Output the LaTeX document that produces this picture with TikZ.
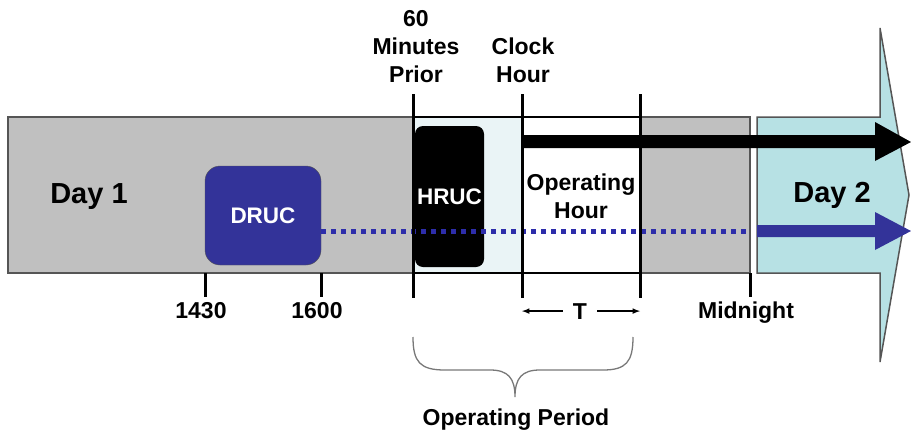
\documentclass[tikz,border=0pt]{standalone}
\usepackage{fontspec}
\setmainfont{Liberation Sans}
\usetikzlibrary{arrows}

\definecolor{dayGray}{RGB}{192,192,192}
\definecolor{edgeGray}{RGB}{85,85,85}
\definecolor{drucBlue}{RGB}{51,51,153}
\definecolor{dotBlue}{RGB}{45,45,170}
\definecolor{dayTwo}{RGB}{183,225,228}
\definecolor{hourTint}{RGB}{234,244,246}
\definecolor{braceGray}{RGB}{120,120,120}

\begin{document}
\begin{tikzpicture}[x=1pt, y=-1pt,
  lbl/.style={font=\fontsize{23}{29}\selectfont\bfseries, inner sep=0pt},
  daylbl/.style={font=\fontsize{29}{34}\selectfont\bfseries, inner sep=0pt},
  tickline/.style={black, line width=3pt},
  ucbox/.style={text=white, font=\fontsize{22.5}{27}\selectfont\bfseries, inner sep=0pt}]

\useasboundingbox (0,0) rectangle (911,434);

% day 2 arrow
\draw[edgeGray, line width=1.5pt, fill=dayTwo, line join=miter] (757,117) -- (880,117) -- (880,28) -- (909,195) -- (880,362) -- (880,273) -- (757,273) -- cycle;
\node[daylbl, anchor=base] (day2) at (832,202) {Day 2};

% day 1 bar
\draw[edgeGray, line width=1.5pt, fill=dayGray] (8,117) rectangle (750,273);
\fill[hourTint] (413,117) rectangle (522,273);
\fill[white] (522,117) rectangle (640,273);
\draw[black, line width=2.5pt] (413,117) -- (640,117);
\draw[black, line width=2.5pt] (413,273) -- (640,273);
\node[daylbl, anchor=base] (day1) at (89,203) {Day 1};

% boxes
\node[ucbox, fill=drucBlue, draw=edgeGray, rounded corners=15pt, minimum width=116pt, minimum height=99pt] (druc) at (263,215.5) {DRUC};
\node[ucbox, fill=black, rounded corners=8pt, minimum width=69pt, minimum height=141pt] (hruc) at (449.5,196.5) {HRUC};
\node[lbl, align=center, anchor=south] (ophour) at (581,219) {Operating\\[-1pt]Hour};

% arrows to day 2
\fill[black] (523,135) -- (875,135) -- (875,122) -- (911,142) -- (875,161) -- (875,148) -- (523,148) -- cycle;
\fill[drucBlue] (757,225) -- (875,225) -- (875,212) -- (911,231) -- (875,250) -- (875,237) -- (757,237) -- cycle;
\coordinate (dotend) at (750,231);
\draw[dotBlue, line width=5pt, dash pattern=on 5pt off 5pt] (druc.east |- dotend) -- (dotend);

% ticks
\coordinate (prior) at (413,94);
\coordinate (clock) at (522,94);
\coordinate (hourend) at (640,94);
\foreach \c in {prior, clock, hourend}
  \draw[tickline] (\c) -- ++(0,204);
\draw[tickline] (205,273) -- (205,297);
\draw[tickline] (321,273) -- (321,297);
\draw[tickline] (750,273) -- (750,297);

% labels
\node[lbl, align=center, anchor=south] (priorlbl) at (416,83) {60\\[-1pt]Minutes\\[-1pt]Prior};
\node[lbl, align=center, anchor=south] (clocklbl) at (523,83) {Clock\\[-1pt]Hour};
\node[lbl, anchor=base] (t1430) at (201,318) {1430};
\node[lbl, anchor=base] (t1600) at (317,318) {1600};
\node[lbl, anchor=base] (midnight) at (746,318) {Midnight};
\node[lbl, anchor=base] (tlen) at (580,319) {T};
\draw[->, >=latex, line width=1.5pt] ([xshift=-10pt]tlen.west) -- (tlen.west -| clock);
\draw[->, >=latex, line width=1.5pt] ([xshift=10pt]tlen.east) -- (tlen.east -| hourend);

% operating period brace
\draw[braceGray, line width=1.3pt] (413,337) .. controls (413,362) and (420,370) .. (445,370) -- (490,370) .. controls (508,370) and (515,378) .. (515,397) .. controls (515,378) and (522,370) .. (540,370) -- (603,370) .. controls (626,370) and (633,362) .. (633,337);
\node[lbl, anchor=base] (opperiod) at (516,425) {Operating Period};

\end{tikzpicture}
\end{document}
